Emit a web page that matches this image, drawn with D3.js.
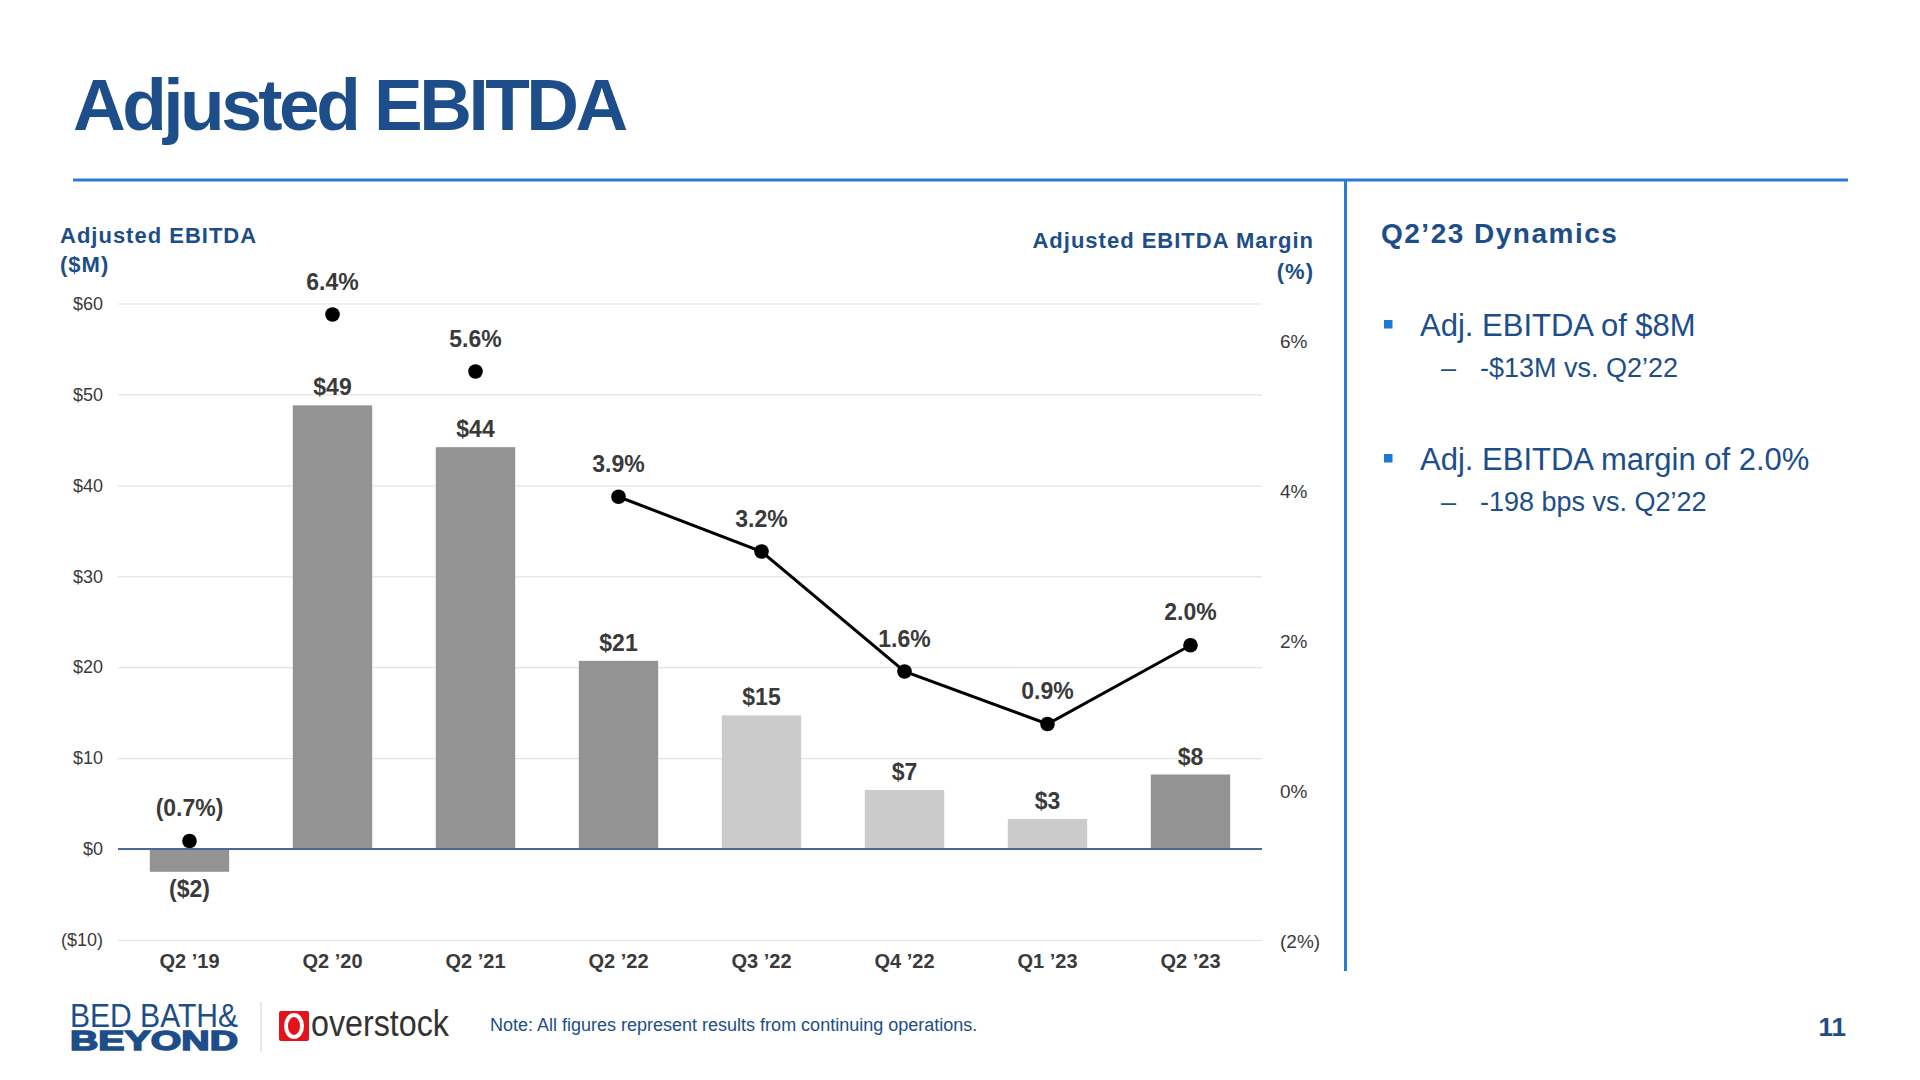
<!DOCTYPE html>
<html>
<head>
<meta charset="utf-8">
<script src="https://cdn.jsdelivr.net/npm/d3@7"></script>
<style>
  html, body { margin: 0; padding: 0; background: #ffffff; }
  svg { display: block; font-family: "Liberation Sans", Arial, Helvetica, sans-serif; }
</style>
</head>
<body>
<svg id="chart" width="1920" height="1080"></svg>
<script>
// ---------- data ----------
const categories   = ["Q2 ’19", "Q2 ’20", "Q2 ’21", "Q2 ’22", "Q3 ’22", "Q4 ’22", "Q1 ’23", "Q2 ’23"];
const ebitda       = [-2.5, 48.8, 44.2, 20.7, 14.7, 6.5, 3.3, 8.2];          // $M
const ebitdaLabels = ["($2)", "$49", "$44", "$21", "$15", "$7", "$3", "$8"];
const marginPct    = [-0.66, 6.36, 5.6, 3.93, 3.2, 1.6, 0.9, 1.95];          // %
const marginLabels = ["(0.7%)", "6.4%", "5.6%", "3.9%", "3.2%", "1.6%", "0.9%", "2.0%"];
const lightQuarters = ["Q3 ’22", "Q4 ’22", "Q1 ’23"];
const lineFrom      = "Q2 ’22";      // margin line connects from this quarter on
const leftTicks  = [60, 50, 40, 30, 20, 10, 0, -10];
const rightTicks = [6, 4, 2, 0, -2];

const pageTitle  = "Adjusted EBITDA";
const leftTitle  = ["Adjusted EBITDA", "($M)"];
const rightTitle = ["Adjusted EBITDA Margin", "(%)"];
const panelTitle = "Q2’23 Dynamics";
const bullets = [
  { main: "Adj. EBITDA of $8M", sub: "-$13M vs. Q2’22" },
  { main: "Adj. EBITDA margin of 2.0%", sub: "-198 bps vs. Q2’22" }
];
const noteText = "Note: All figures represent results from continuing operations.";
const pageNum = "11";

// ---------- styles ----------
const BLUE = "#1d4e89", BRIGHT = "#2b7bd0", TXT = "#3a3a3a";
const DARK_BAR = "#939393", LIGHT_BAR = "#cbcbcb";

const svg = d3.select("#chart");

// ---------- header ----------
svg.append("text").attr("x", 73).attr("y", 129.5)
  .attr("font-size", 73).attr("font-weight", "bold").attr("letter-spacing", -3.5)
  .attr("fill", BLUE).text(pageTitle);
svg.append("line").attr("x1", 73).attr("x2", 1848).attr("y1", 180).attr("y2", 180)
  .attr("stroke", BRIGHT).attr("stroke-width", 3);
svg.append("line").attr("x1", 1345.5).attr("x2", 1345.5).attr("y1", 180).attr("y2", 971)
  .attr("stroke", BRIGHT).attr("stroke-width", 3);

// ---------- scales ----------
const plotL = 118, plotR = 1262;
const x = d3.scaleBand().domain(categories).range([plotL, plotR])
  .paddingInner(0.445).paddingOuter(0.2225);
const yL = d3.scaleLinear().domain([-10, 60]).range([940, 303.5]);
const yR = d3.scaleLinear().domain([-2, 6.5]).range([941.5, 304]);

// ---------- axes / grid ----------
const gLeft = svg.append("g").attr("transform", `translate(${plotL},0)`)
  .call(d3.axisLeft(yL).tickValues(leftTicks).tickSize(-(plotR - plotL)).tickPadding(15)
    .tickFormat(v => v < 0 ? `($${-v})` : `$${v}`));
gLeft.select(".domain").remove();
gLeft.selectAll(".tick line").attr("stroke", "#e3e3e3").attr("stroke-width", 1.2);
gLeft.selectAll(".tick text").attr("font-size", 18).attr("fill", TXT)
  .attr("font-family", "Liberation Sans, Arial, sans-serif");

const gRight = svg.append("g").attr("transform", "translate(1280,0)")
  .call(d3.axisRight(yR).tickValues(rightTicks).tickSize(0).tickPadding(0)
    .tickFormat(v => v < 0 ? `(${-v}%)` : `${v}%`));
gRight.select(".domain").remove();
gRight.selectAll(".tick text").attr("font-size", 19).attr("fill", TXT)
  .attr("font-family", "Liberation Sans, Arial, sans-serif");

const gX = svg.append("g").attr("transform", "translate(0,940)")
  .call(d3.axisBottom(x).tickSize(0).tickPadding(14));
gX.select(".domain").remove();
gX.selectAll(".tick text").attr("font-size", 20).attr("font-weight", "bold").attr("fill", TXT)
  .attr("font-family", "Liberation Sans, Arial, sans-serif");

// axis titles
const lt = svg.append("text").attr("font-size", 22).attr("font-weight", "bold")
  .attr("letter-spacing", 1).attr("fill", BLUE);
lt.selectAll("tspan").data(leftTitle).join("tspan")
  .attr("x", 60).attr("y", (d, i) => 242.5 + i * 29).text(d => d);
const rt = svg.append("text").attr("font-size", 22).attr("font-weight", "bold")
  .attr("letter-spacing", 1).attr("fill", BLUE).attr("text-anchor", "end");
rt.selectAll("tspan").data(rightTitle).join("tspan")
  .attr("x", 1314).attr("y", (d, i) => 248 + i * 31).text(d => d);

// ---------- bars ----------
const rows = categories.map((c, i) => ({ c, v: ebitda[i], lab: ebitdaLabels[i], m: marginPct[i], mlab: marginLabels[i] }));

svg.append("g").selectAll("rect").data(rows).join("rect")
  .attr("x", d => x(d.c)).attr("width", x.bandwidth())
  .attr("y", d => yL(Math.max(0, d.v)))
  .attr("height", d => Math.abs(yL(d.v) - yL(0)))
  .attr("fill", d => lightQuarters.includes(d.c) ? LIGHT_BAR : DARK_BAR);

// zero line
svg.append("line").attr("x1", plotL).attr("x2", plotR).attr("y1", yL(0)).attr("y2", yL(0))
  .attr("stroke", "#4a6a94").attr("stroke-width", 2);

// bar labels
svg.append("g").selectAll("text").data(rows).join("text")
  .attr("x", d => x(d.c) + x.bandwidth() / 2)
  .attr("y", d => d.v < 0 ? yL(d.v) + 25 : yL(d.v) - 10)
  .attr("text-anchor", "middle").attr("font-size", 23).attr("font-weight", "bold")
  .attr("fill", TXT).text(d => d.lab);

// ---------- margin line & dots ----------
const startIdx = categories.indexOf(lineFrom);
const line = d3.line().x(d => x(d.c) + x.bandwidth() / 2).y(d => yR(d.m));
svg.append("path").datum(rows.slice(startIdx)).attr("d", line)
  .attr("fill", "none").attr("stroke", "#000").attr("stroke-width", 3);
svg.append("g").selectAll("circle").data(rows).join("circle")
  .attr("cx", d => x(d.c) + x.bandwidth() / 2).attr("cy", d => yR(d.m))
  .attr("r", 7.3).attr("fill", "#000");
svg.append("g").selectAll("text").data(rows).join("text")
  .attr("x", d => x(d.c) + x.bandwidth() / 2).attr("y", d => yR(d.m) - 25)
  .attr("text-anchor", "middle").attr("font-size", 23).attr("font-weight", "bold")
  .attr("fill", TXT).text(d => d.mlab);

// ---------- right panel ----------
svg.append("text").attr("x", 1381).attr("y", 243).attr("font-size", 28).attr("font-weight", "bold")
  .attr("letter-spacing", 1.5).attr("fill", BLUE).text(panelTitle);
const bg = svg.append("g").selectAll("g").data(bullets).join("g")
  .attr("transform", (d, i) => `translate(0,${i * 134})`);
bg.append("rect").attr("x", 1384).attr("y", 320).attr("width", 8.5).attr("height", 8.5).attr("fill", "#1f78d1");
bg.append("text").attr("x", 1420).attr("y", 336).attr("font-size", 31).attr("fill", BLUE).text(d => d.main);
bg.append("text").attr("x", 1441).attr("y", 377).attr("font-size", 27).attr("fill", BLUE).text("–");
bg.append("text").attr("x", 1480).attr("y", 377).attr("font-size", 27).attr("fill", BLUE).text(d => d.sub);

// ---------- footer ----------
svg.append("text").attr("x", 70).attr("y", 1027).attr("font-size", 33)
  .attr("textLength", 168).attr("lengthAdjust", "spacingAndGlyphs")
  .attr("fill", BLUE).text("BED BATH&");
svg.append("text").attr("x", 70).attr("y", 1050).attr("font-size", 27).attr("font-weight", "900")
  .attr("stroke", BLUE).attr("stroke-width", 1.5)
  .attr("textLength", 168).attr("lengthAdjust", "spacingAndGlyphs")
  .attr("fill", BLUE).text("BEYOND");
svg.append("line").attr("x1", 261).attr("x2", 261).attr("y1", 1002).attr("y2", 1052)
  .attr("stroke", "#d0d0d0").attr("stroke-width", 1);
svg.append("rect").attr("x", 279).attr("y", 1011).attr("width", 30).attr("height", 30)
  .attr("rx", 2).attr("fill", "#e3121b");
svg.append("ellipse").attr("cx", 294).attr("cy", 1026).attr("rx", 8).attr("ry", 11)
  .attr("fill", "none").attr("stroke", "#fff").attr("stroke-width", 4);
svg.append("text").attr("x", 311).attr("y", 1036).attr("font-size", 36)
  .attr("textLength", 138).attr("lengthAdjust", "spacingAndGlyphs")
  .attr("fill", "#333").attr("font-weight", "300").text("overstock");
svg.append("text").attr("x", 490).attr("y", 1031).attr("font-size", 18)
  .attr("fill", BLUE).text(noteText);
svg.append("text").attr("x", 1846).attr("y", 1036).attr("text-anchor", "end")
  .attr("font-size", 26).attr("font-weight", "bold").attr("fill", BLUE).text(pageNum);
</script>
</body>
</html>
